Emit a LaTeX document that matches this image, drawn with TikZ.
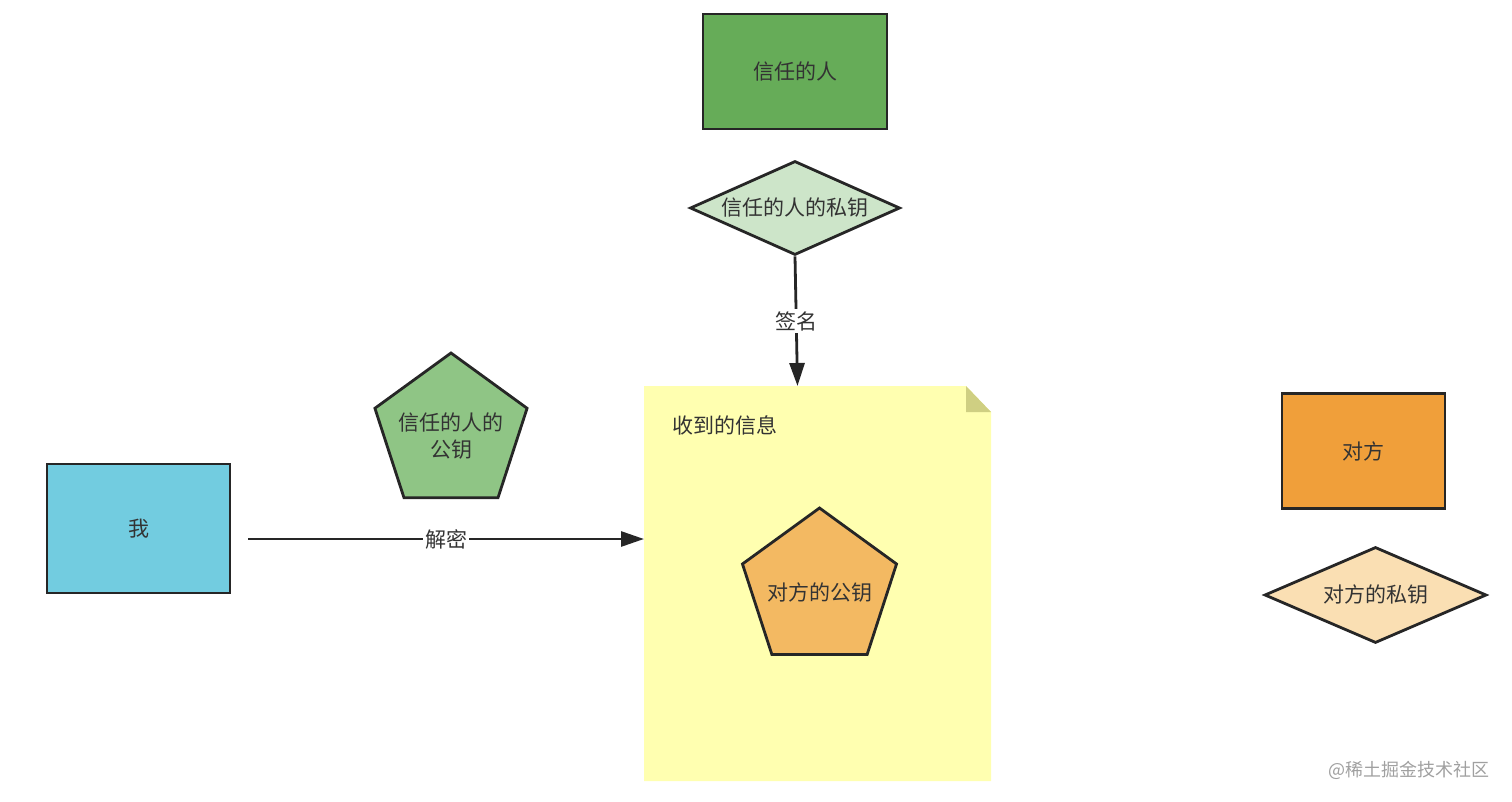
\documentclass[tikz,border=0pt]{standalone}
\usepackage{fontspec}
\setmainfont{Noto Sans CJK SC}
\usetikzlibrary{shapes.geometric,arrows.meta}
\definecolor{cLine}{HTML}{262626}
\definecolor{cText}{HTML}{333333}
\definecolor{cTrust}{HTML}{66AC58}
\definecolor{cTrustPriv}{HTML}{CDE5C9}
\definecolor{cTrustPub}{HTML}{8FC585}
\definecolor{cMe}{HTML}{72CCE0}
\definecolor{cOther}{HTML}{F09F3A}
\definecolor{cOtherPub}{HTML}{F3B962}
\definecolor{cOtherPriv}{HTML}{FADFB3}
\definecolor{cNote}{HTML}{FFFFB0}
\definecolor{cFold}{HTML}{CFCF82}
\definecolor{cMark}{HTML}{A0A0A0}
\begin{document}
\begin{tikzpicture}[x=1pt,y=-1pt,
  every node/.style={font=\fontsize{21}{27}\selectfont, text=cText},
  box/.style={draw=cLine, line width=2.8pt, rectangle, inner sep=0pt},
  dia/.style={draw=cLine, line width=2.8pt, diamond, inner sep=0pt},
  pent/.style={draw=cLine, line width=2.8pt, regular polygon, regular polygon sides=5, inner sep=0pt},
  arr/.style={draw=cLine, line width=2.8pt, -{Triangle[width=15pt,length=23pt]}},
  lbl/.style={fill=white, inner sep=2pt},
  txt/.style={inner sep=0pt, align=center}]
\useasboundingbox (0,0) rectangle (1512,802);

% note
\node[rectangle, minimum width=347pt, minimum height=395pt, inner sep=0pt, outer sep=0pt] (note) at (817.5,583.5) {};
\fill[cNote] (note.north west) -- ([xshift=-25pt]note.north east) -- ([yshift=-26pt]note.north east) -- (note.south east) -- (note.south west) -- cycle;
\fill[cFold] ([xshift=-25pt]note.north east) -- ([xshift=-25pt,yshift=-26pt]note.north east) -- ([yshift=-26pt]note.north east) -- cycle;
\node[anchor=west, inner sep=0pt] (notetitle) at (672,425) {收到的信息};

% top
\node[box, fill=cTrust, minimum width=184pt, minimum height=115pt] (trust) at (795,71.5) {信任的人};
\node[dia, fill=cTrustPriv, aspect=2.23, minimum width=210pt, minimum height=94pt] (tpriv) at (795,208) {信任的人的私钥};

% left
\node[pent, fill=cTrustPub, minimum size=160pt] (tpub) at (451,433) {};
\node[txt] (tpubtext) at (451,436) {信任的人的\\公钥};
\node[box, fill=cMe, minimum width=183pt, minimum height=129pt] (me) at (138.5,528.5) {我};

% inside note
\node[pent, fill=cOtherPub, minimum size=162pt] (opub) at (819.5,589) {};
\node[txt] (opubtext) at (819.5,593) {对方的公钥};

% right
\node[box, fill=cOther, minimum width=163pt, minimum height=115pt] (other) at (1363.5,451) {对方};
\node[dia, fill=cOtherPriv, aspect=2.29, minimum width=222pt, minimum height=96pt] (opriv) at (1375.5,595) {对方的私钥};

% connectors
\coordinate (ntop) at (797.5,386);
\draw[arr] (tpriv.south) -- node[lbl] (signlbl) {签名} (ntop);
\coordinate (dstart) at (248,539);
\draw[arr] (dstart) -- node[lbl] (declbl) {解密} (note.west |- dstart);

% watermark
\node[anchor=east, inner sep=0pt, text=cMark, font=\fontsize{18}{18}\selectfont] (wm) at (1490,770) {@稀土掘金技术社区};
\end{tikzpicture}
\end{document}
